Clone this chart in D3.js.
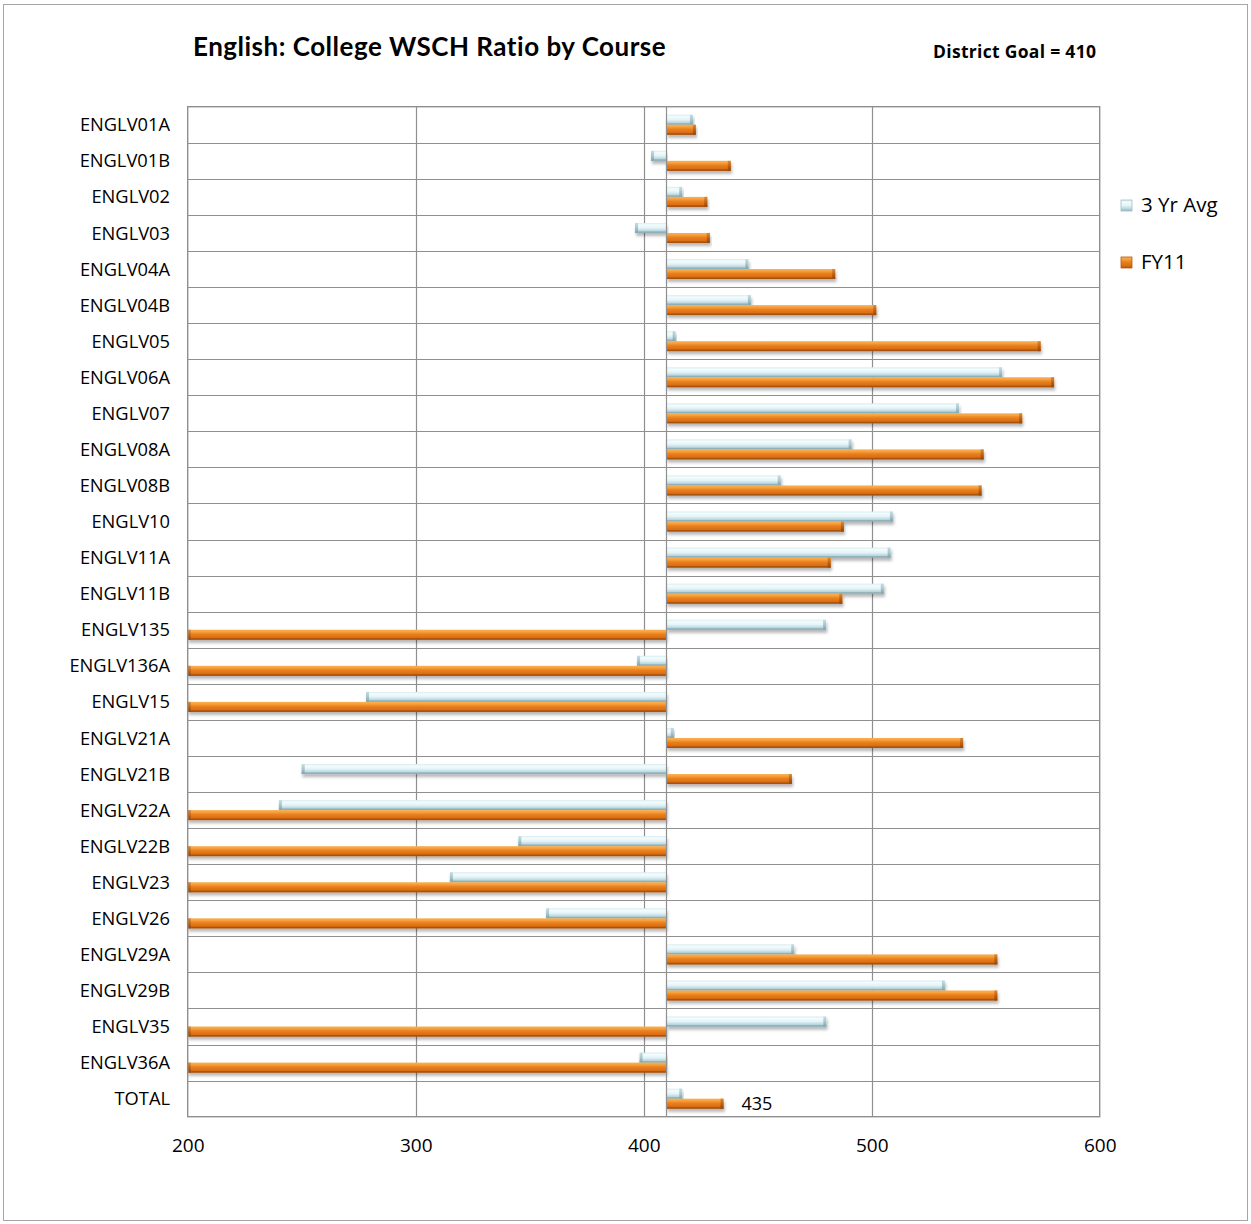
<!DOCTYPE html>
<html>
<head>
<meta charset="utf-8">
<script src="https://cdn.jsdelivr.net/npm/d3@7"></script>
<style>
  html, body { margin: 0; padding: 0; background: #fff; }
  svg { display: block; font-family: "Open Sans", Lato, sans-serif; }
</style>
</head>
<body>
<svg id="chart" width="1251" height="1224"></svg>
<script>
// Courses, top to bottom
const courses = ["ENGLV01A","ENGLV01B","ENGLV02","ENGLV03","ENGLV04A","ENGLV04B","ENGLV05",
  "ENGLV06A","ENGLV07","ENGLV08A","ENGLV08B","ENGLV10","ENGLV11A","ENGLV11B","ENGLV135",
  "ENGLV136A","ENGLV15","ENGLV21A","ENGLV21B","ENGLV22A","ENGLV22B","ENGLV23","ENGLV26",
  "ENGLV29A","ENGLV29B","ENGLV35","ENGLV36A","TOTAL"];

// WSCH ratio, three-year average
const avg3yr = [421.6, 403.2, 416.9, 396.2, 445.9, 447, 414, 557.2, 538.3, 491.2, 460.1, 509.3,
  508.3, 505.3, 480, 397.1, 278.2, 413.2, 250, 240, 345, 315, 357.2, 466, 532.1, 480.1, 398.2, 416.9];

// WSCH ratio, FY11 (0 = no FY11 sections)
const fy11 = [422.9, 438.2, 427.9, 429, 484, 502, 574.1, 580, 566, 549.1, 548.2, 487.8,
  482, 487.1, 0, 0, 0, 540.1, 465, 0, 0, 0, 0, 555.1, 555.1, 0, 0, 435];

const seriesNames = ["3 Yr Avg", "FY11"];
const xTicks = [200, 300, 400, 500, 600];
const gridValues = [300, 400, 500];
const districtGoal = 410;
const labelledCourse = "TOTAL";

const svg = d3.select("#chart");
const plot = { left: 187.7, right: 1099.7, top: 106.7, bottom: 1116.7 };
const grey = "#8f8f8f";

// outer frame
svg.append("rect").attr("x", 3.5).attr("y", 4.5).attr("width", 1244).attr("height", 1216)
  .attr("fill", "none").attr("stroke", "#a6a6a6").attr("stroke-width", 1);

const x = d3.scaleLinear().domain([200, 600]).range([plot.left, plot.right]).clamp(true);
const y = d3.scaleBand().domain(courses).range([plot.top, plot.bottom]).padding(0);
const bw = y.bandwidth();
const ySeries = d3.scaleBand().domain(seriesNames).range([bw / 2 - 10, bw / 2 + 10]).padding(0);

// gradients
const defs = svg.append("defs");
function vGrad(id, stops) {
  const g = defs.append("linearGradient").attr("id", id)
    .attr("x1", 0).attr("y1", 0).attr("x2", 0).attr("y2", 1);
  stops.forEach(([o, c]) => g.append("stop").attr("offset", o).attr("stop-color", c));
}
vGrad("gOrange", [[0, "#f6b15a"], [0.2, "#f7a23c"], [0.45, "#ea7f1f"], [0.8, "#d96d12"], [1, "#a9520c"]]);
vGrad("gBlue", [[0, "#d6ecf1"], [0.2, "#f4fcfd"], [0.5, "#e3f3f7"], [0.8, "#b8d6de"], [1, "#8fb2bc"]]);
vGrad("gOrangeEnd", [[0, "#d98a3a"], [0.5, "#c0620f"], [1, "#8f430a"]]);
vGrad("gBlueEnd", [[0, "#c4dde3"], [0.5, "#a7c6ce"], [1, "#7fa2ac"]]);
const sh = defs.append("filter").attr("id", "shadow").attr("x", "-5%").attr("y", "-50%")
  .attr("width", "110%").attr("height", "220%");
sh.append("feDropShadow").attr("dx", 1).attr("dy", 3).attr("stdDeviation", 1.6)
  .attr("flood-color", "#000").attr("flood-opacity", 0.28);

// plot background and grid
svg.append("rect").attr("x", plot.left).attr("y", plot.top)
  .attr("width", plot.right - plot.left).attr("height", plot.bottom - plot.top)
  .attr("fill", "#fff");

svg.append("g").selectAll("line").data(courses.slice(1)).join("line")
  .attr("x1", plot.left).attr("x2", plot.right)
  .attr("y1", d => Math.round(y(d)) + 0.5).attr("y2", d => Math.round(y(d)) + 0.5)
  .attr("stroke", grey).attr("stroke-width", 1.2);

svg.append("g").selectAll("line").data(gridValues).join("line")
  .attr("x1", d => Math.round(x(d)) + 0.5).attr("x2", d => Math.round(x(d)) + 0.5)
  .attr("y1", plot.top).attr("y2", plot.bottom)
  .attr("stroke", grey).attr("stroke-width", 1.2);

// bars grow from the district goal
const rows = courses.map((c, i) => ({ course: c, values: [avg3yr[i], fy11[i]] }));
const barG = svg.append("g");
rows.forEach(r => {
  r.values.forEach((v, k) => {
    const s = seriesNames[k];
    const x0 = x(districtGoal), x1 = x(v);
    const left = Math.min(x0, x1), w = Math.abs(x1 - x0);
    const top = y(r.course) + ySeries(s), h = ySeries.bandwidth();
    const g = barG.append("g").attr("filter", "url(#shadow)");
    g.append("rect").attr("x", left).attr("y", top).attr("width", w).attr("height", h)
      .attr("fill", k === 0 ? "url(#gBlue)" : "url(#gOrange)");
    // bevelled end cap on the far end
    const cap = Math.min(3, w);
    const capX = x1 >= x0 ? left + w - cap : left;
    g.append("rect").attr("x", capX).attr("y", top).attr("width", cap).attr("height", h)
      .attr("fill", k === 0 ? "url(#gBlueEnd)" : "url(#gOrangeEnd)");
    g.append("rect").attr("x", left).attr("y", top + h - 1.5).attr("width", w).attr("height", 1.5)
      .attr("fill", k === 0 ? "#8aacb5" : "#a3500d").attr("opacity", 0.8);
  });
});

// axis line at the district goal and plot border
svg.append("line").attr("x1", Math.round(x(districtGoal)) - 0.5).attr("x2", Math.round(x(districtGoal)) - 0.5)
  .attr("y1", plot.top).attr("y2", plot.bottom).attr("stroke", grey).attr("stroke-width", 1.2);
svg.append("rect").attr("x", plot.left).attr("y", plot.top)
  .attr("width", plot.right - plot.left).attr("height", plot.bottom - plot.top)
  .attr("fill", "none").attr("stroke", grey).attr("stroke-width", 1.4);

// value label
const ti = courses.indexOf(labelledCourse);
svg.append("text")
  .attr("x", x(fy11[ti]) + 18)
  .attr("y", y(labelledCourse) + ySeries("FY11") + ySeries.bandwidth() / 2)
  .attr("dy", "0.36em").attr("font-size", 18).attr("fill", "#000")
  .text(d3.format("d")(fy11[ti]));

// category axis
svg.append("g").selectAll("text").data(courses).join("text")
  .attr("x", 170).attr("y", d => y(d) + bw / 2).attr("dy", "0.36em")
  .attr("text-anchor", "end").attr("font-size", 18.3).attr("fill", "#000")
  .text(d => d);

// value axis
const xAxis = d3.axisBottom(x).tickValues(xTicks).tickSize(0).tickPadding(0).tickFormat(d3.format("d"));
const gx = svg.append("g").attr("transform", `translate(0,${plot.bottom + 22})`).call(xAxis);
gx.select(".domain").remove();
gx.selectAll("text").attr("font-size", 19).attr("fill", "#000")
  .attr("font-family", "'Open Sans', Lato, sans-serif");

// titles
svg.append("text").attr("x", 193).attr("y", 56).attr("font-size", 26).attr("font-weight", "bold")
  .attr("font-family", "Lato, 'Open Sans', sans-serif").attr("letter-spacing", 0.5)
  .attr("fill", "#000").text("English: College WSCH Ratio by Course");
svg.append("text").attr("x", 933).attr("y", 58).attr("font-size", 17.5).attr("font-weight", "bold")
  .attr("letter-spacing", 0.3)
  .attr("fill", "#000").text("District Goal = " + districtGoal);

// legend
const legend = svg.append("g").selectAll("g").data(seriesNames).join("g")
  .attr("transform", (d, i) => `translate(1121,${205 + i * 57})`);
legend.append("rect").attr("x", 0).attr("y", -5).attr("width", 11).attr("height", 11)
  .attr("fill", (d, i) => i === 0 ? "url(#gBlue)" : "url(#gOrange)")
  .attr("stroke", (d, i) => i === 0 ? "#9fc0c8" : "#b95a0e").attr("stroke-width", 0.8);
legend.append("text").attr("x", 20).attr("y", 0).attr("dy", "0.36em")
  .attr("font-size", 20.5).attr("fill", "#000").text(d => d);
</script>
</body>
</html>
